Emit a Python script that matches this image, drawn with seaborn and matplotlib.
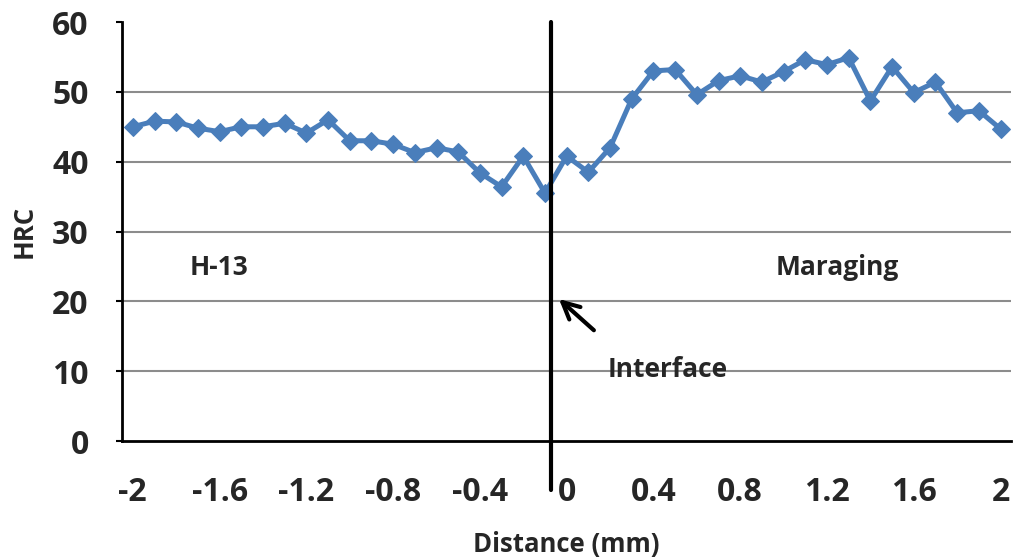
import matplotlib
matplotlib.use("Agg")
import matplotlib.pyplot as plt
import seaborn as sns
import pandas as pd
import numpy as np

# hardness profile across the H-13 / maraging interface
distance = [-2.0, -1.9, -1.8, -1.7, -1.6, -1.5, -1.4, -1.3, -1.2, -1.1,
            -1.0, -0.9, -0.8, -0.7, -0.6, -0.5, -0.4, -0.3, -0.2, -0.1,
            0.0, 0.1, 0.2, 0.3, 0.4, 0.5, 0.6, 0.7, 0.8, 0.9,
            1.0, 1.1, 1.2, 1.3, 1.4, 1.5, 1.6, 1.7, 1.8, 1.9, 2.0]
hrc = [45.0, 45.8, 45.7, 44.8, 44.3, 45.0, 45.0, 45.5, 44.1, 46.0,
       43.0, 43.0, 42.5, 41.3, 42.0, 41.4, 38.4, 36.4, 40.8, 35.5,
       40.8, 38.5, 42.0, 49.0, 53.0, 53.2, 49.6, 51.6, 52.3, 51.4,
       52.9, 54.6, 53.9, 54.9, 48.7, 53.6, 49.9, 51.4, 47.0, 47.3, 44.7]
xtick_vals = [-2, -1.6, -1.2, -0.8, -0.4, 0, 0.4, 0.8, 1.2, 1.6, 2]
xtick_labels = ["-2", "-1.6", "-1.2", "-0.8", "-0.4", "0", "0.4", "0.8", "1.2", "1.6", "2"]
ytick_vals = [0, 10, 20, 30, 40, 50, 60]
interface_x = -0.07

df = pd.DataFrame({"distance": distance, "hrc": hrc})

sns.set_style("white")
plt.rcParams["font.family"] = ["Open Sans", "DejaVu Sans"]
W = "bold"

fig = plt.figure(figsize=(10.13, 5.59), dpi=100)
ax = fig.add_axes([0.1204, 0.211, 0.878, 0.7496])

blue = "#4A7EBB"
sns.lineplot(data=df, x="distance", y="hrc", ax=ax, color=blue, lw=3.6,
             marker="D", markersize=9, markeredgecolor=blue, zorder=3)

ax.set_xlim(-2.05, 2.05)
ax.set_ylim(0, 60)

for v in ytick_vals[1:-1]:
    ax.axhline(v, color="#8c8c8c", lw=1.5, zorder=1)

ax.set_xticks(xtick_vals)
ax.set_xticklabels(xtick_labels)
ax.set_yticks(ytick_vals)
ax.tick_params(axis="x", length=0, pad=25, labelsize=23)
ax.tick_params(axis="y", length=4, width=1.5, direction="out", pad=20,
               labelsize=23, color="black", left=True)
for lbl in ax.get_xticklabels() + ax.get_yticklabels():
    lbl.set_fontweight(W)

for s in ["top", "right"]:
    ax.spines[s].set_visible(False)
for s in ["left", "bottom"]:
    ax.spines[s].set_color("black")
    ax.spines[s].set_linewidth(2)

ax.set_xlabel("Distance (mm)", fontsize=18.5, fontweight=W, labelpad=16)
ax.set_ylabel("HRC", fontsize=18.5, fontweight=W, labelpad=10)

# interface line, extended below the axis
ax.plot([interface_x, interface_x], [-7, 60], color="black", lw=3,
        clip_on=False, zorder=4)
ax.annotate("", xy=(-0.045, 20.6), xytext=(0.135, 15.6),
            arrowprops=dict(arrowstyle="->", color="black", lw=3,
                            mutation_scale=30))

ax.text(-1.74, 24.8, "H-13", fontsize=19, fontweight=W, va="center")
ax.text(0.965, 24.8, "Maraging", fontsize=19, fontweight=W, va="center")
ax.text(0.19, 10.3, "Interface", fontsize=19, fontweight=W, va="center")

fig.savefig("out.png", dpi=100)
